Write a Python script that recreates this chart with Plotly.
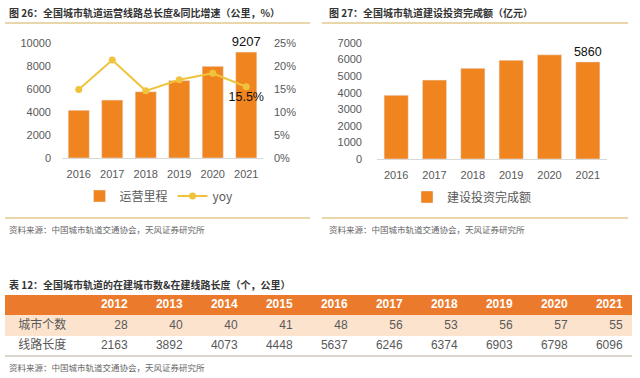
import plotly.graph_objects as go

# ---------------- data ----------------
years_a = ["2016", "2017", "2018", "2019", "2020", "2021"]
mileage = [4153, 5033, 5761, 6736, 7970, 9207]          # 运营里程 (公里)
yoy = [14.9, 21.3, 14.6, 17.0, 18.4, 15.5]              # 同比增速 (%)

years_b = ["2016", "2017", "2018", "2019", "2020", "2021"]
invest = [3847, 4762, 5470, 5959, 6286, 5860]           # 建设投资完成额 (亿元)

table_years = ["2012", "2013", "2014", "2015", "2016", "2017", "2018", "2019", "2020", "2021"]
table_rows = ["城市个数", "线路长度"]
city_counts = [28, 40, 40, 41, 48, 56, 53, 56, 57, 55]
line_lengths = [2163, 3892, 4073, 4448, 5637, 6246, 6374, 6903, 6798, 6096]

title_a = "图 26：全国城市轨道运营线路总长度&同比增速（公里，%）"
title_b = "图 27：全国城市轨道建设投资完成额（亿元）"
title_t = "表 12：全国城市轨道的在建城市数&在建线路长度（个，公里）"
source = "资料来源：中国城市轨道交通协会，天风证券研究所"

# ---------------- style ----------------
W, H = 640, 378
ORANGE = "#F0841F"
YELLOW = "#EFC43C"
GOLD = "#E2C88E"
TICK = "#595959"
HEAD = "#EC7A2C"
PEACH = "#FCE3CD"
CJK = "Noto Sans CJK SC"
NUM = "Liberation Sans, Arial, sans-serif"


def px_x(x):
    return x / W


def px_y(y):
    return 1 - y / H


fig = go.Figure()

# ---------- left chart: bars + yoy line ----------
fig.add_trace(go.Bar(
    x=years_a, y=mileage, name="运营里程", marker_color=ORANGE,
    text=[""] * (len(mileage) - 1) + [str(mileage[-1])],
    textposition="outside", constraintext="none",
    textfont=dict(size=13, color="#111", family=NUM),
    cliponaxis=False, xaxis="x", yaxis="y", legend="legend",
))
fig.add_trace(go.Scatter(
    x=years_a, y=yoy, name="yoy", mode="lines+markers+text",
    line=dict(color=YELLOW, width=2), marker=dict(color=YELLOW, size=7),
    text=[""] * (len(yoy) - 1) + [f"{yoy[-1]}%"],
    textposition="bottom center", textfont=dict(size=12.5, color="#111", family=NUM),
    cliponaxis=False, xaxis="x", yaxis="y2", legend="legend",
))

# ---------- right chart ----------
fig.add_trace(go.Bar(
    x=years_b, y=invest, name="建设投资完成额", marker_color=ORANGE,
    text=[""] * (len(invest) - 1) + [str(invest[-1])],
    textposition="outside", constraintext="none",
    textfont=dict(size=12.5, color="#111", family=NUM),
    cliponaxis=False, xaxis="x3", yaxis="y3", legend="legend2",
))

# ---------- table (heatmap cells + text) ----------
label_w, col_w = 1.4, 1.0
edges = [0.0, label_w] + [label_w + col_w * (i + 1) for i in range(len(table_years))]
row_names = ["线路长度", "城市个数", "header"]          # bottom -> top
z = [[0] * (len(table_years) + 1), [1] * (len(table_years) + 1), [2] * (len(table_years) + 1)]
fig.add_trace(go.Heatmap(
    x=edges, y=row_names, z=z, zmin=0, zmax=2, showscale=False, hoverinfo="skip",
    colorscale=[[0, "#FFFFFF"], [0.5, PEACH], [1, HEAD]],
    xaxis="x4", yaxis="y4",
))
pad = 0.17
right_x = [edges[i + 2] - pad for i in range(len(table_years))]
fig.add_trace(go.Scatter(
    x=right_x, y=["header"] * len(table_years), mode="text",
    text=[f"<b>{y}</b>" for y in table_years], textposition="middle left",
    textfont=dict(size=12, color="white", family=NUM), showlegend=False,
    xaxis="x4", yaxis="y4", hoverinfo="skip",
))
fig.add_trace(go.Scatter(
    x=right_x, y=["城市个数"] * len(table_years), mode="text",
    text=[str(v) for v in city_counts], textposition="middle left",
    textfont=dict(size=12, color=TICK, family=NUM), showlegend=False,
    xaxis="x4", yaxis="y4", hoverinfo="skip",
))
fig.add_trace(go.Scatter(
    x=right_x, y=["线路长度"] * len(table_years), mode="text",
    text=[str(v) for v in line_lengths], textposition="middle left",
    textfont=dict(size=12, color=TICK, family=NUM), showlegend=False,
    xaxis="x4", yaxis="y4", hoverinfo="skip",
))
fig.add_trace(go.Scatter(
    x=[0.24] * len(table_rows), y=table_rows, mode="text",
    text=table_rows, textposition="middle right",
    textfont=dict(size=12, color=TICK, family=CJK), showlegend=False,
    xaxis="x4", yaxis="y4", hoverinfo="skip",
))

axis_font = dict(size=11, color=TICK, family=NUM)
fig.update_layout(
    width=W, height=H, margin=dict(l=0, r=0, t=0, b=0, autoexpand=False),
    paper_bgcolor="white", plot_bgcolor="white",
    font=dict(family=CJK, color="#333"),
    bargap=0.37,
    showlegend=True,
    xaxis=dict(domain=[px_x(62), px_x(263)], type="category", showgrid=False,
               showline=True, linecolor="#D9D9D9", linewidth=1, ticks="",
               tickfont=axis_font, ticklabelstandoff=6, automargin=False, anchor="y"),
    yaxis=dict(domain=[px_y(158), px_y(43)], range=[0, 10000], dtick=2000, tickformat="d",
               showgrid=False, zeroline=False, tickfont=axis_font,
               ticklabelstandoff=10, anchor="x", automargin=False),
    yaxis2=dict(domain=[px_y(158), px_y(43)], range=[0, 25], dtick=5, ticksuffix="%",
                overlaying="y", side="right", anchor="x", showgrid=False, zeroline=False,
                tickfont=axis_font, ticklabelstandoff=10, automargin=False),
    xaxis3=dict(domain=[px_x(377), px_x(607)], type="category", showgrid=False,
                showline=True, linecolor="#D9D9D9", linewidth=1, ticks="",
                tickfont=axis_font, ticklabelstandoff=6, anchor="y3", automargin=False),
    yaxis3=dict(domain=[px_y(159), px_y(43)], range=[0, 7000], dtick=1000, tickformat="d",
                showgrid=False, zeroline=False, tickfont=axis_font,
                ticklabelstandoff=14, anchor="x3", automargin=False),
    xaxis4=dict(domain=[px_x(5), px_x(632)], range=[edges[0], edges[-1]], visible=False,
                anchor="y4", automargin=False),
    yaxis4=dict(domain=[px_y(356), px_y(295)], type="category", categoryorder="array",
                categoryarray=row_names, range=[-0.5, 2.5], visible=False,
                anchor="x4", automargin=False),
    legend=dict(orientation="h", x=px_x(159), y=px_y(196), xanchor="center", yanchor="middle",
                font=dict(size=12, color=TICK, family=CJK), bgcolor="rgba(0,0,0,0)",
                itemwidth=30),
    legend2=dict(orientation="h", x=px_x(472), y=px_y(197), xanchor="center", yanchor="middle",
                 font=dict(size=12, color=TICK, family=CJK), bgcolor="rgba(0,0,0,0)"),
)


def note(text, x, y, size, color, bold=False):
    fig.add_annotation(text=f"<b>{text}</b>" if bold else text, x=px_x(x), y=px_y(y),
                       xref="paper", yref="paper", xanchor="left", yanchor="middle",
                       showarrow=False, font=dict(size=size, color=color, family=CJK))


note(title_a, 7, 12, 10, "#333", bold=True)
note(title_b, 327, 12, 10, "#333", bold=True)
note(title_t, 7, 284, 10, "#333", bold=True)
note(source, 7, 229, 8.5, "#666")
note(source, 327, 229, 8.5, "#666")
note(source, 7, 367, 8.5, "#666")

for (x0, x1, y) in [(5, 310, 23), (322, 628, 23), (5, 310, 218), (322, 628, 218)]:
    fig.add_shape(type="line", xref="paper", yref="paper", x0=px_x(x0), x1=px_x(x1),
                  y0=px_y(y), y1=px_y(y), line=dict(color=GOLD, width=1.5))
fig.add_shape(type="line", xref="paper", yref="paper", x0=px_x(5), x1=px_x(632),
              y0=px_y(356), y1=px_y(356), line=dict(color="#B8AE9C", width=1.2))

fig.write_html(
    "out.html",
    config={"displayModeBar": False, "staticPlot": True},
    post_script="document.body.style.margin='0';document.body.style.overflow='hidden';",
)
